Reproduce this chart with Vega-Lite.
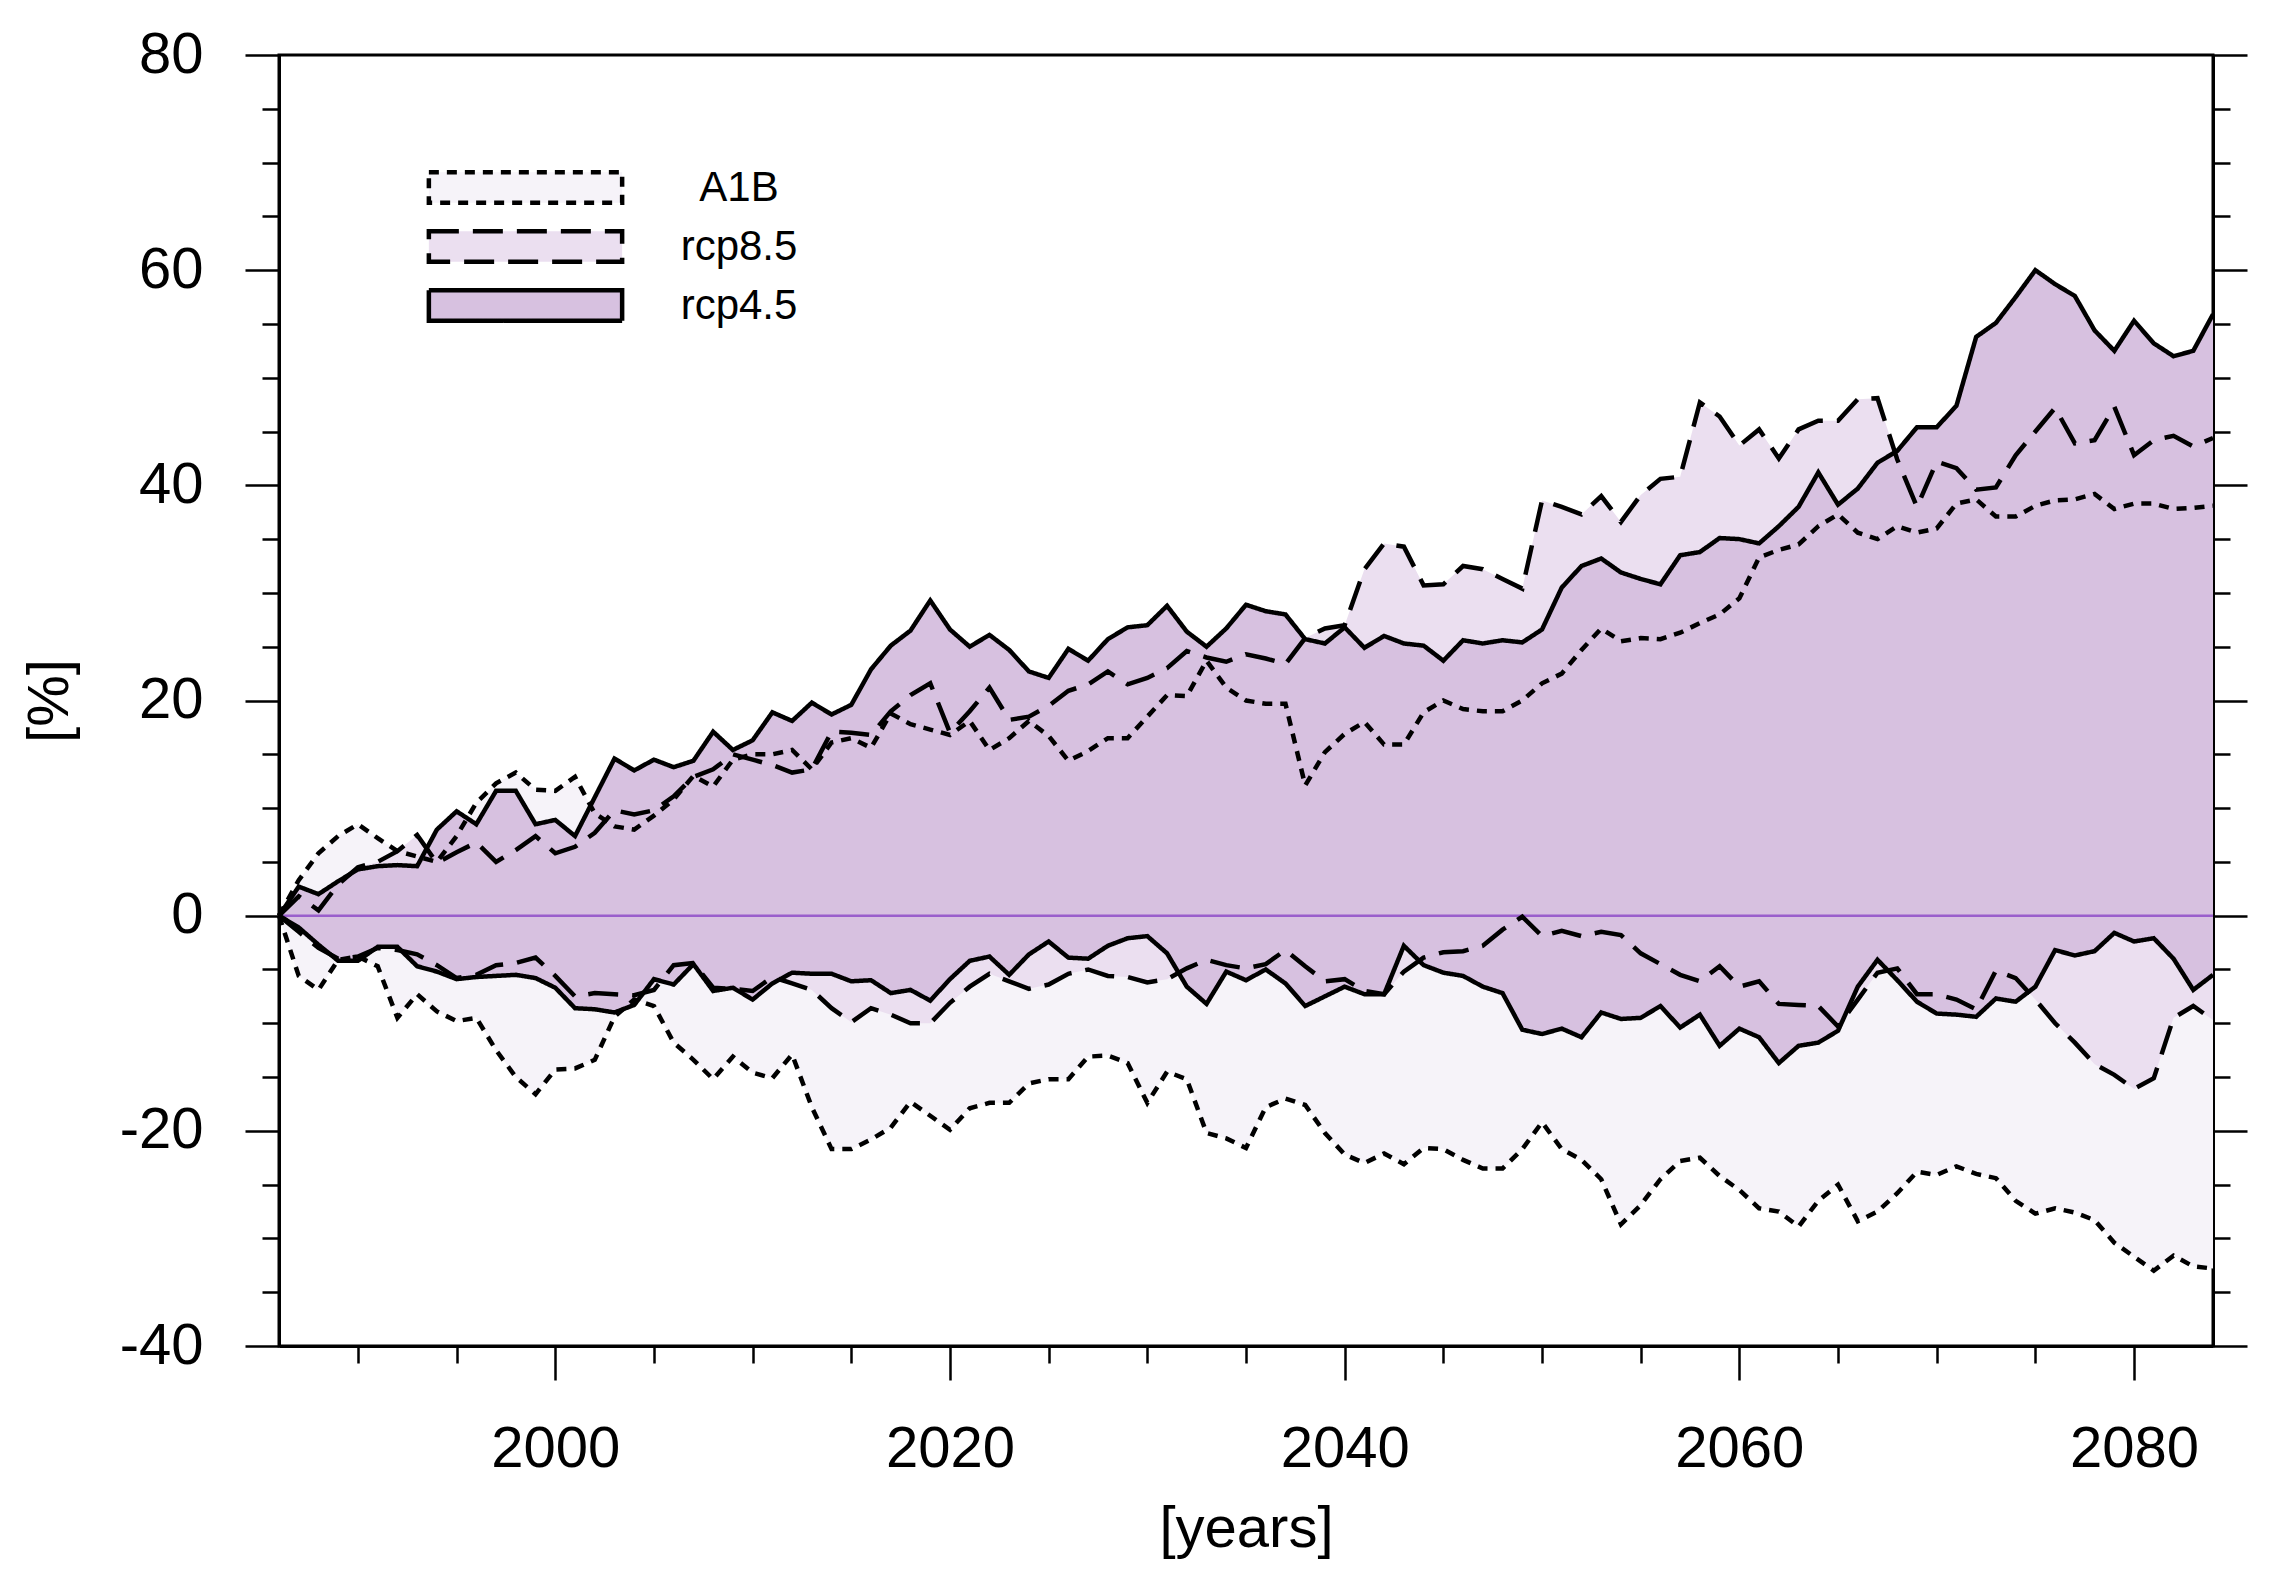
{
  "$schema": "https://vega.github.io/schema/vega-lite/v6.json",
  "width": 1934,
  "height": 1291,
  "autosize": {"type": "none"},
  "padding": {"left": 279, "top": 55, "right": 57, "bottom": 233},
  "background": "white",
  "data": {"values": [
    {"year":1986,"a1b_lo":0,"a1b_hi":0,"r85_lo":0,"r85_hi":0,"r45_lo":0,"r45_hi":0},
    {"year":1987,"a1b_lo":-5.6,"a1b_hi":3.3,"r85_lo":-1.5,"r85_hi":1.8,"r45_lo":-1.1,"r45_hi":2.7},
    {"year":1988,"a1b_lo":-6.9,"a1b_hi":5.8,"r85_lo":-3.0,"r85_hi":0.5,"r45_lo":-2.7,"r45_hi":2.0},
    {"year":1989,"a1b_lo":-4.1,"a1b_hi":7.4,"r85_lo":-4.0,"r85_hi":2.9,"r45_lo":-4.2,"r45_hi":3.2},
    {"year":1990,"a1b_lo":-3.8,"a1b_hi":8.5,"r85_lo":-3.8,"r85_hi":4.5,"r45_lo":-4.2,"r45_hi":4.3},
    {"year":1991,"a1b_lo":-4.7,"a1b_hi":7.2,"r85_lo":-3.0,"r85_hi":5.0,"r45_lo":-2.9,"r45_hi":4.6},
    {"year":1992,"a1b_lo":-9.5,"a1b_hi":6.0,"r85_lo":-3.2,"r85_hi":6.0,"r45_lo":-2.9,"r45_hi":4.7},
    {"year":1993,"a1b_lo":-7.3,"a1b_hi":5.5,"r85_lo":-3.6,"r85_hi":7.5,"r45_lo":-4.7,"r45_hi":4.6},
    {"year":1994,"a1b_lo":-8.9,"a1b_hi":5.0,"r85_lo":-4.6,"r85_hi":4.9,"r45_lo":-5.2,"r45_hi":8.0},
    {"year":1995,"a1b_lo":-9.8,"a1b_hi":7.4,"r85_lo":-5.8,"r85_hi":5.9,"r45_lo":-5.9,"r45_hi":9.7},
    {"year":1996,"a1b_lo":-9.5,"a1b_hi":10.5,"r85_lo":-5.5,"r85_hi":6.8,"r45_lo":-5.7,"r45_hi":8.5},
    {"year":1997,"a1b_lo":-12.5,"a1b_hi":12.3,"r85_lo":-4.6,"r85_hi":5.0,"r45_lo":-5.6,"r45_hi":11.6},
    {"year":1998,"a1b_lo":-15.0,"a1b_hi":13.3,"r85_lo":-4.4,"r85_hi":6.1,"r45_lo":-5.5,"r45_hi":11.6},
    {"year":1999,"a1b_lo":-16.6,"a1b_hi":11.7,"r85_lo":-3.9,"r85_hi":7.4,"r45_lo":-5.8,"r45_hi":8.5},
    {"year":2000,"a1b_lo":-14.3,"a1b_hi":11.6,"r85_lo":-5.6,"r85_hi":5.8,"r45_lo":-6.7,"r45_hi":8.9},
    {"year":2001,"a1b_lo":-14.2,"a1b_hi":12.9,"r85_lo":-7.5,"r85_hi":6.4,"r45_lo":-8.6,"r45_hi":7.4},
    {"year":2002,"a1b_lo":-13.4,"a1b_hi":9.5,"r85_lo":-7.2,"r85_hi":7.7,"r45_lo":-8.7,"r45_hi":11.0},
    {"year":2003,"a1b_lo":-9.4,"a1b_hi":8.3,"r85_lo":-7.3,"r85_hi":9.8,"r45_lo":-9.0,"r45_hi":14.6},
    {"year":2004,"a1b_lo":-7.8,"a1b_hi":8.0,"r85_lo":-7.4,"r85_hi":9.4,"r45_lo":-8.3,"r45_hi":13.5},
    {"year":2005,"a1b_lo":-8.4,"a1b_hi":9.3,"r85_lo":-6.9,"r85_hi":9.8,"r45_lo":-5.9,"r45_hi":14.5},
    {"year":2006,"a1b_lo":-11.8,"a1b_hi":10.8,"r85_lo":-4.6,"r85_hi":11.1,"r45_lo":-6.4,"r45_hi":13.8},
    {"year":2007,"a1b_lo":-13.4,"a1b_hi":13.0,"r85_lo":-4.4,"r85_hi":12.9,"r45_lo":-4.5,"r45_hi":14.4},
    {"year":2008,"a1b_lo":-15.2,"a1b_hi":12.0,"r85_lo":-6.7,"r85_hi":13.6,"r45_lo":-7.0,"r45_hi":17.1},
    {"year":2009,"a1b_lo":-13.1,"a1b_hi":14.5,"r85_lo":-6.8,"r85_hi":15.0,"r45_lo":-6.7,"r45_hi":15.4},
    {"year":2010,"a1b_lo":-14.6,"a1b_hi":15.0,"r85_lo":-7.0,"r85_hi":14.5,"r45_lo":-7.8,"r45_hi":16.3},
    {"year":2011,"a1b_lo":-15.1,"a1b_hi":15.0,"r85_lo":-5.7,"r85_hi":14.0,"r45_lo":-6.3,"r45_hi":18.9},
    {"year":2012,"a1b_lo":-12.9,"a1b_hi":15.4,"r85_lo":-6.3,"r85_hi":13.3,"r45_lo":-5.3,"r45_hi":18.1},
    {"year":2013,"a1b_lo":-17.8,"a1b_hi":13.6,"r85_lo":-6.9,"r85_hi":13.6,"r45_lo":-5.4,"r45_hi":19.8},
    {"year":2014,"a1b_lo":-21.7,"a1b_hi":16.1,"r85_lo":-8.6,"r85_hi":17.1,"r45_lo":-5.4,"r45_hi":18.7},
    {"year":2015,"a1b_lo":-21.7,"a1b_hi":16.5,"r85_lo":-9.9,"r85_hi":17.0,"r45_lo":-6.1,"r45_hi":19.6},
    {"year":2016,"a1b_lo":-20.8,"a1b_hi":15.6,"r85_lo":-8.6,"r85_hi":16.8,"r45_lo":-6.0,"r45_hi":22.9},
    {"year":2017,"a1b_lo":-19.7,"a1b_hi":18.8,"r85_lo":-9.2,"r85_hi":19.0,"r45_lo":-7.2,"r45_hi":25.1},
    {"year":2018,"a1b_lo":-17.3,"a1b_hi":17.8,"r85_lo":-10.0,"r85_hi":20.5,"r45_lo":-6.9,"r45_hi":26.5},
    {"year":2019,"a1b_lo":-18.6,"a1b_hi":17.3,"r85_lo":-10.0,"r85_hi":21.6,"r45_lo":-7.9,"r45_hi":29.3},
    {"year":2020,"a1b_lo":-19.9,"a1b_hi":16.8,"r85_lo":-8.1,"r85_hi":17.0,"r45_lo":-5.9,"r45_hi":26.6},
    {"year":2021,"a1b_lo":-17.9,"a1b_hi":18.1,"r85_lo":-6.6,"r85_hi":19.0,"r45_lo":-4.2,"r45_hi":25.0},
    {"year":2022,"a1b_lo":-17.4,"a1b_hi":15.4,"r85_lo":-5.4,"r85_hi":21.2,"r45_lo":-3.8,"r45_hi":26.1},
    {"year":2023,"a1b_lo":-17.4,"a1b_hi":16.5,"r85_lo":-6.1,"r85_hi":18.2,"r45_lo":-5.5,"r45_hi":24.7},
    {"year":2024,"a1b_lo":-15.6,"a1b_hi":18.1,"r85_lo":-6.8,"r85_hi":18.5,"r45_lo":-3.6,"r45_hi":22.7},
    {"year":2025,"a1b_lo":-15.2,"a1b_hi":16.7,"r85_lo":-6.4,"r85_hi":19.5,"r45_lo":-2.4,"r45_hi":22.1},
    {"year":2026,"a1b_lo":-15.2,"a1b_hi":14.4,"r85_lo":-5.4,"r85_hi":20.9,"r45_lo":-3.9,"r45_hi":24.8},
    {"year":2027,"a1b_lo":-13.1,"a1b_hi":15.3,"r85_lo":-5.0,"r85_hi":21.5,"r45_lo":-4.0,"r45_hi":23.7},
    {"year":2028,"a1b_lo":-13.0,"a1b_hi":16.5,"r85_lo":-5.6,"r85_hi":22.7,"r45_lo":-2.8,"r45_hi":25.7},
    {"year":2029,"a1b_lo":-13.7,"a1b_hi":16.5,"r85_lo":-5.7,"r85_hi":21.5,"r45_lo":-2.1,"r45_hi":26.8},
    {"year":2030,"a1b_lo":-17.4,"a1b_hi":18.5,"r85_lo":-6.2,"r85_hi":22.1,"r45_lo":-1.9,"r45_hi":27.0},
    {"year":2031,"a1b_lo":-14.5,"a1b_hi":20.5,"r85_lo":-5.9,"r85_hi":23.0,"r45_lo":-3.5,"r45_hi":28.8},
    {"year":2032,"a1b_lo":-15.2,"a1b_hi":20.4,"r85_lo":-4.9,"r85_hi":24.6,"r45_lo":-6.6,"r45_hi":26.4},
    {"year":2033,"a1b_lo":-20.2,"a1b_hi":23.7,"r85_lo":-4.1,"r85_hi":24.0,"r45_lo":-8.2,"r45_hi":25.0},
    {"year":2034,"a1b_lo":-20.7,"a1b_hi":21.2,"r85_lo":-4.6,"r85_hi":23.6,"r45_lo":-5.2,"r45_hi":26.7},
    {"year":2035,"a1b_lo":-21.6,"a1b_hi":20.0,"r85_lo":-4.9,"r85_hi":24.3,"r45_lo":-6.0,"r45_hi":28.9},
    {"year":2036,"a1b_lo":-17.8,"a1b_hi":19.7,"r85_lo":-4.5,"r85_hi":23.9,"r45_lo":-5.0,"r45_hi":28.3},
    {"year":2037,"a1b_lo":-17.0,"a1b_hi":19.7,"r85_lo":-3.2,"r85_hi":23.4,"r45_lo":-6.3,"r45_hi":28.0},
    {"year":2038,"a1b_lo":-17.6,"a1b_hi":12.1,"r85_lo":-4.7,"r85_hi":25.8,"r45_lo":-8.4,"r45_hi":25.7},
    {"year":2039,"a1b_lo":-20.2,"a1b_hi":15.2,"r85_lo":-6.1,"r85_hi":26.7,"r45_lo":-7.5,"r45_hi":25.3},
    {"year":2040,"a1b_lo":-22.2,"a1b_hi":16.9,"r85_lo":-5.9,"r85_hi":27.0,"r45_lo":-6.6,"r45_hi":26.8},
    {"year":2041,"a1b_lo":-23.0,"a1b_hi":18.0,"r85_lo":-7.0,"r85_hi":32.2,"r45_lo":-7.3,"r45_hi":24.9},
    {"year":2042,"a1b_lo":-22.1,"a1b_hi":15.9,"r85_lo":-7.3,"r85_hi":34.6,"r45_lo":-7.3,"r45_hi":26.0},
    {"year":2043,"a1b_lo":-23.1,"a1b_hi":15.9,"r85_lo":-5.2,"r85_hi":34.3,"r45_lo":-2.8,"r45_hi":25.3},
    {"year":2044,"a1b_lo":-21.6,"a1b_hi":18.9,"r85_lo":-3.9,"r85_hi":30.7,"r45_lo":-4.6,"r45_hi":25.1},
    {"year":2045,"a1b_lo":-21.7,"a1b_hi":20.0,"r85_lo":-3.4,"r85_hi":30.8,"r45_lo":-5.3,"r45_hi":23.7},
    {"year":2046,"a1b_lo":-22.7,"a1b_hi":19.2,"r85_lo":-3.3,"r85_hi":32.5,"r45_lo":-5.6,"r45_hi":25.6},
    {"year":2047,"a1b_lo":-23.5,"a1b_hi":19.0,"r85_lo":-2.8,"r85_hi":32.2,"r45_lo":-6.6,"r45_hi":25.3},
    {"year":2048,"a1b_lo":-23.5,"a1b_hi":19.0,"r85_lo":-1.3,"r85_hi":31.3,"r45_lo":-7.2,"r45_hi":25.6},
    {"year":2049,"a1b_lo":-21.7,"a1b_hi":20.0,"r85_lo":-0.1,"r85_hi":30.4,"r45_lo":-10.6,"r45_hi":25.4},
    {"year":2050,"a1b_lo":-19.2,"a1b_hi":21.6,"r85_lo":-1.9,"r85_hi":38.6,"r45_lo":-11.0,"r45_hi":26.6},
    {"year":2051,"a1b_lo":-21.7,"a1b_hi":22.5,"r85_lo":-1.4,"r85_hi":38.0,"r45_lo":-10.5,"r45_hi":30.5},
    {"year":2052,"a1b_lo":-22.7,"a1b_hi":24.7,"r85_lo":-1.9,"r85_hi":37.3,"r45_lo":-11.3,"r45_hi":32.5},
    {"year":2053,"a1b_lo":-24.5,"a1b_hi":26.7,"r85_lo":-1.5,"r85_hi":39.0,"r45_lo":-9.0,"r45_hi":33.2},
    {"year":2054,"a1b_lo":-28.7,"a1b_hi":25.5,"r85_lo":-1.8,"r85_hi":36.6,"r45_lo":-9.6,"r45_hi":31.9},
    {"year":2055,"a1b_lo":-26.9,"a1b_hi":25.8,"r85_lo":-3.5,"r85_hi":39.1,"r45_lo":-9.5,"r45_hi":31.3},
    {"year":2056,"a1b_lo":-24.5,"a1b_hi":25.7,"r85_lo":-4.5,"r85_hi":40.6,"r45_lo":-8.4,"r45_hi":30.8},
    {"year":2057,"a1b_lo":-22.8,"a1b_hi":26.3,"r85_lo":-5.5,"r85_hi":40.8,"r45_lo":-10.4,"r45_hi":33.5},
    {"year":2058,"a1b_lo":-22.5,"a1b_hi":27.2,"r85_lo":-6.1,"r85_hi":47.7,"r45_lo":-9.2,"r45_hi":33.8},
    {"year":2059,"a1b_lo":-24.2,"a1b_hi":28.0,"r85_lo":-4.7,"r85_hi":46.4,"r45_lo":-12.1,"r45_hi":35.1},
    {"year":2060,"a1b_lo":-25.5,"a1b_hi":29.5,"r85_lo":-6.6,"r85_hi":43.7,"r45_lo":-10.5,"r45_hi":35.0},
    {"year":2061,"a1b_lo":-27.2,"a1b_hi":33.3,"r85_lo":-6.1,"r85_hi":45.2,"r45_lo":-11.3,"r45_hi":34.6},
    {"year":2062,"a1b_lo":-27.5,"a1b_hi":34.0,"r85_lo":-8.2,"r85_hi":42.5,"r45_lo":-13.7,"r45_hi":36.2},
    {"year":2063,"a1b_lo":-28.9,"a1b_hi":34.5,"r85_lo":-8.3,"r85_hi":45.2,"r45_lo":-12.1,"r45_hi":38.0},
    {"year":2064,"a1b_lo":-26.5,"a1b_hi":36.2,"r85_lo":-8.4,"r85_hi":46.0,"r45_lo":-11.8,"r45_hi":41.2},
    {"year":2065,"a1b_lo":-25.0,"a1b_hi":37.3,"r85_lo":-10.3,"r85_hi":46.0,"r45_lo":-10.7,"r45_hi":38.2},
    {"year":2066,"a1b_lo":-28.4,"a1b_hi":35.6,"r85_lo":-7.8,"r85_hi":48.0,"r45_lo":-6.6,"r45_hi":39.7},
    {"year":2067,"a1b_lo":-27.5,"a1b_hi":35.0,"r85_lo":-5.3,"r85_hi":48.1,"r45_lo":-4.1,"r45_hi":42.1},
    {"year":2068,"a1b_lo":-25.8,"a1b_hi":36.2,"r85_lo":-4.9,"r85_hi":42.4,"r45_lo":-6.0,"r45_hi":43.2},
    {"year":2069,"a1b_lo":-23.8,"a1b_hi":35.6,"r85_lo":-7.3,"r85_hi":38.0,"r45_lo":-8.0,"r45_hi":45.4},
    {"year":2070,"a1b_lo":-24.1,"a1b_hi":36.0,"r85_lo":-7.3,"r85_hi":42.2,"r45_lo":-9.1,"r45_hi":45.4},
    {"year":2071,"a1b_lo":-23.3,"a1b_hi":38.3,"r85_lo":-7.8,"r85_hi":41.6,"r45_lo":-9.2,"r45_hi":47.4},
    {"year":2072,"a1b_lo":-24.0,"a1b_hi":38.7,"r85_lo":-8.7,"r85_hi":39.6,"r45_lo":-9.4,"r45_hi":53.8},
    {"year":2073,"a1b_lo":-24.4,"a1b_hi":37.1,"r85_lo":-5.1,"r85_hi":39.8,"r45_lo":-7.7,"r45_hi":55.1},
    {"year":2074,"a1b_lo":-26.5,"a1b_hi":37.1,"r85_lo":-5.8,"r85_hi":42.8,"r45_lo":-8.0,"r45_hi":57.5},
    {"year":2075,"a1b_lo":-27.7,"a1b_hi":38.1,"r85_lo":-7.8,"r85_hi":45.0,"r45_lo":-6.6,"r45_hi":60.0},
    {"year":2076,"a1b_lo":-27.2,"a1b_hi":38.6,"r85_lo":-10.0,"r85_hi":47.2,"r45_lo":-3.2,"r45_hi":58.7},
    {"year":2077,"a1b_lo":-27.6,"a1b_hi":38.7,"r85_lo":-11.8,"r85_hi":43.9,"r45_lo":-3.7,"r45_hi":57.6},
    {"year":2078,"a1b_lo":-28.3,"a1b_hi":39.2,"r85_lo":-13.8,"r85_hi":44.2,"r45_lo":-3.3,"r45_hi":54.4},
    {"year":2079,"a1b_lo":-30.4,"a1b_hi":37.8,"r85_lo":-14.8,"r85_hi":47.3,"r45_lo":-1.6,"r45_hi":52.5},
    {"year":2080,"a1b_lo":-31.7,"a1b_hi":38.3,"r85_lo":-16.1,"r85_hi":42.8,"r45_lo":-2.4,"r45_hi":55.3},
    {"year":2081,"a1b_lo":-33.0,"a1b_hi":38.3,"r85_lo":-15.1,"r85_hi":44.2,"r45_lo":-2.1,"r45_hi":53.2},
    {"year":2082,"a1b_lo":-31.6,"a1b_hi":37.8,"r85_lo":-9.5,"r85_hi":44.6,"r45_lo":-4.0,"r45_hi":52.0},
    {"year":2083,"a1b_lo":-32.6,"a1b_hi":37.9,"r85_lo":-8.4,"r85_hi":43.6,"r45_lo":-6.9,"r45_hi":52.5},
    {"year":2084,"a1b_lo":-32.8,"a1b_hi":38.1,"r85_lo":-9.7,"r85_hi":44.4,"r45_lo":-5.5,"r45_hi":55.9}
  ]},
  "config": {
    "view": {"stroke": "black", "strokeWidth": 3},
    "font": "Liberation Sans",
    "axis": {
      "labelFont": "Liberation Sans", "titleFont": "Liberation Sans",
      "labelFontSize": 58, "titleFontSize": 58,
      "labelColor": "black", "titleColor": "black", "titleFontWeight": "normal",
      "domainColor": "black", "domainWidth": 3,
      "tickColor": "black", "tickWidth": 2.5,
      "grid": false, "labelOverlap": false, "labelFlush": false
    }
  },
  "layer": [
    {
      "mark": {"type": "area", "line": false},
      "encoding": {
        "x": {"field": "year", "type": "quantitative", "scale": {"domain": [1986, 2084], "nice": false, "zero": false},
          "axis": {"orient": "bottom", "values": [1990,1995,2000,2005,2010,2015,2020,2025,2030,2035,2040,2045,2050,2055,2060,2065,2070,2075,2080],
            "labelExpr": "datum.value % 20 === 0 ? toString(datum.value) : ''",
            "tickSize": {"condition": {"test": "datum.value % 20 === 0", "value": 34}, "value": 17},
            "labelPadding": 40, "title": "[years]", "titlePadding": 22}},
        "y": {"field": "a1b_hi", "type": "quantitative", "stack": null, "scale": {"domain": [-40, 80], "nice": false, "zero": false},
          "axis": {"orient": "left", "values": [-40,-35,-30,-25,-20,-15,-10,-5,0,5,10,15,20,25,30,35,40,45,50,55,60,65,70,75,80],
            "labelExpr": "datum.value % 20 === 0 ? toString(datum.value) : ''",
            "tickSize": {"condition": {"test": "datum.value % 20 === 0", "value": 34}, "value": 17},
            "labelPadding": 42, "title": "[%]", "titlePadding": 40}},
        "y2": {"field": "a1b_lo"},
        "fill": {"datum": "A1B", "type": "nominal",
          "scale": {"domain": ["A1B", "rcp8.5", "rcp4.5"], "range": ["#f6f3f9", "#ebdff0", "#d7c1e0"]},
          "legend": {"title": null, "orient": "none", "legendX": 212, "legendY": 98,
            "symbolType": "M-3.02,-0.48H3.02V0.48H-3.02Z", "symbolSize": 4096,
            "symbolStrokeColor": "black", "symbolStrokeWidth": 4.5, "symbolOpacity": 1,
            "labelFont": "Liberation Sans", "labelFontSize": 42, "labelColor": "black", "labelAlign": "center",
            "labelOffset": 179, "rowPadding": -9, "padding": 0,
            "encode": {"symbols": {"update": {"fill": {"scale": "fill", "field": "value"}, "strokeDash": {"scale": "strokeDash", "field": "value"}, "stroke": {"value": "black"}, "strokeWidth": {"value": 4.5}, "opacity": {"value": 1}}}}}}
      }
    },
    {
      "mark": {"type": "area", "line": false},
      "encoding": {
        "x": {"field": "year", "type": "quantitative", "axis": null},
        "y": {"field": "r85_hi", "type": "quantitative", "stack": null,
          "axis": {"orient": "right", "values": [-40,-35,-30,-25,-20,-15,-10,-5,0,5,10,15,20,25,30,35,40,45,50,55,60,65,70,75,80],
            "labels": false, "title": null,
            "tickSize": {"condition": {"test": "datum.value % 20 === 0", "value": 34}, "value": 17}}},
        "y2": {"field": "r85_lo"},
        "fill": {"datum": "rcp8.5", "type": "nominal"}
      }
    },
    {
      "mark": {"type": "area", "line": false},
      "encoding": {
        "x": {"field": "year", "type": "quantitative", "axis": null},
        "y": {"field": "r45_hi", "type": "quantitative", "stack": null, "axis": null},
        "y2": {"field": "r45_lo"},
        "fill": {"datum": "rcp4.5", "type": "nominal"}
      }
    },
    {
      "data": {"values": [{"v": 0}]},
      "mark": {"type": "rule", "color": "#9a5fcc", "strokeWidth": 2.5},
      "encoding": {"y": {"field": "v", "type": "quantitative", "axis": null}}
    },
    {
      "mark": {"type": "line", "color": "black", "strokeWidth": 4.5},
      "encoding": {
        "x": {"field": "year", "type": "quantitative", "axis": null},
        "y": {"field": "a1b_hi", "type": "quantitative", "axis": null},
        "strokeDash": {"datum": "A1B", "type": "nominal",
          "scale": {"domain": ["A1B", "rcp8.5", "rcp4.5"], "range": [[10, 8], [30, 14], [1, 0]]},
          "legend": {"title": null, "orient": "none", "legendX": 212, "legendY": 98,
            "symbolType": "M-3.02,-0.48H3.02V0.48H-3.02Z", "symbolSize": 4096,
            "symbolStrokeColor": "black", "symbolStrokeWidth": 4.5, "symbolOpacity": 1,
            "labelFont": "Liberation Sans", "labelFontSize": 42, "labelColor": "black", "labelAlign": "center",
            "labelOffset": 179, "rowPadding": -9, "padding": 0,
            "encode": {"symbols": {"update": {"fill": {"scale": "fill", "field": "value"}, "strokeDash": {"scale": "strokeDash", "field": "value"}, "stroke": {"value": "black"}, "strokeWidth": {"value": 4.5}, "opacity": {"value": 1}}}}}}
      }
    },
    {
      "mark": {"type": "line", "color": "black", "strokeWidth": 4.5},
      "encoding": {
        "x": {"field": "year", "type": "quantitative", "axis": null},
        "y": {"field": "a1b_lo", "type": "quantitative", "axis": null},
        "strokeDash": {"datum": "A1B", "type": "nominal"}
      }
    },
    {
      "mark": {"type": "line", "color": "black", "strokeWidth": 4.5},
      "encoding": {
        "x": {"field": "year", "type": "quantitative", "axis": null},
        "y": {"field": "r85_hi", "type": "quantitative", "axis": null},
        "strokeDash": {"datum": "rcp8.5", "type": "nominal"}
      }
    },
    {
      "mark": {"type": "line", "color": "black", "strokeWidth": 4.5},
      "encoding": {
        "x": {"field": "year", "type": "quantitative", "axis": null},
        "y": {"field": "r85_lo", "type": "quantitative", "axis": null},
        "strokeDash": {"datum": "rcp8.5", "type": "nominal"}
      }
    },
    {
      "mark": {"type": "line", "color": "black", "strokeWidth": 4.5},
      "encoding": {
        "x": {"field": "year", "type": "quantitative", "axis": null},
        "y": {"field": "r45_hi", "type": "quantitative", "axis": null},
        "strokeDash": {"datum": "rcp4.5", "type": "nominal"}
      }
    },
    {
      "mark": {"type": "line", "color": "black", "strokeWidth": 4.5},
      "encoding": {
        "x": {"field": "year", "type": "quantitative", "axis": null},
        "y": {"field": "r45_lo", "type": "quantitative", "axis": null},
        "strokeDash": {"datum": "rcp4.5", "type": "nominal"}
      }
    }
  ],
  "resolve": {"axis": {"y": "independent", "x": "independent"}}
}
